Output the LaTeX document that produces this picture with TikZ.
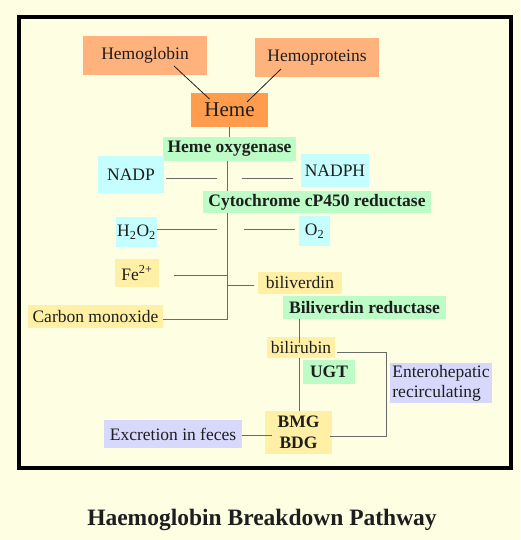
\documentclass[tikz,border=0pt]{standalone}
\usepackage{fontspec}
\setmainfont{Liberation Serif}
\usetikzlibrary{positioning}
\definecolor{paper}{HTML}{FEFEE2}
\definecolor{ink}{HTML}{1E1E1E}
\definecolor{wire}{HTML}{6A6A6A}
\definecolor{hemelight}{HTML}{FFB27C}
\definecolor{hemedark}{HTML}{FF9C4E}
\definecolor{enzyme}{HTML}{BDFCC6}
\definecolor{cofactor}{HTML}{C4FEFE}
\definecolor{product}{HTML}{FFF0A6}
\definecolor{fate}{HTML}{D8D8FC}

\begin{document}
\begin{tikzpicture}[x=1pt,y=1pt,text=ink,
  font=\fontsize{17.5}{19}\selectfont,
  box/.style={inner sep=0pt,outer sep=0pt},
  enz/.style={box,fill=enzyme,font=\bfseries\fontsize{17.5}{19}\selectfont},
  link/.style={draw=wire,line width=0.9pt}]
  \useasboundingbox[fill=paper] (0,0) rectangle (520,540);
  \draw[line width=4pt] (19,72) rectangle (511,523);

  % heme sources
  \node[box,fill=hemelight,minimum width=124,minimum height=39] (hgb) at (145,484.5) {Hemoglobin};
  \node[box,fill=hemelight,minimum width=124,minimum height=39] (hpro) at (317,482.5) {Hemoproteins};
  \node[box,fill=hemedark,minimum width=77,minimum height=34,font=\fontsize{21}{23}\selectfont] (heme) at (229.5,430) {Heme};
  \draw[draw=ink,line width=0.8pt] ([shift={(-33,9)}]hgb.south east) -- ([shift={(-20,-6)}]heme.north);
  \draw[draw=ink,line width=0.8pt] ([shift={(26,8)}]hpro.south west) -- ([shift={(17.5,-9)}]heme.north);

  % oxygenase step
  \node[enz,minimum width=133,minimum height=24] (hox) at (229.5,391) {Heme oxygenase};
  \node[box,fill=cofactor,minimum width=66,minimum height=37] (nadp) at (131,365.5) {NADP};
  \node[box,fill=cofactor,minimum width=68,minimum height=33] (nadph) at (335,369.5) {NADPH};
  \node[enz,minimum width=228,minimum height=22] (cyp) at (317,338) {Cytochrome cP450 reductase};
  \node[box,fill=cofactor,minimum width=41,minimum height=30] (hoo) at (136.5,308) {H\textsubscript{2}O\textsubscript{2}};
  \node[box,fill=cofactor,minimum width=31,minimum height=30] (oo) at (314.5,309) {O\textsubscript{2}};
  \node[box,fill=product,minimum width=44,minimum height=28] (fe) at (137,267) {Fe\textsuperscript{2+}};
  \node[box,fill=product,minimum width=84,minimum height=22] (bv) at (300,257) {biliverdin};
  \node[box,fill=product,minimum width=135,minimum height=23] (co) at (95.5,223.5) {Carbon monoxide};

  \coordinate (spine) at (227.5,221);
  \coordinate (nadpL) at (166,362);
  \coordinate (nadpR) at (217,362);
  \coordinate (nadphL) at (242,362);
  \coordinate (nadphR) at (293,362);
  \draw[link] (heme.south) -- (hox.north);
  \draw[link] (hox.south -| spine) -- (cyp.north -| spine);
  \draw[link] (cyp.south -| spine) -- (spine) -- (spine -| co.east);
  \draw[link] (nadpL) -- (nadpR);
  \draw[link] (nadphL) -- (nadphR);
  \draw[link] ([yshift=3pt]hoo.east) -- ++(60,0);
  \draw[link] ([shift={(-4,2)}]oo.west) -- ++(-51,0);
  \draw[link] ([shift={(15,-2)}]fe.east) -- (spine |- 0,265);
  \draw[link] ([shift={(-4,-2)}]bv.west) -- (spine |- 0,255);

  % reductase and conjugation
  \node[enz,minimum width=163,minimum height=23] (bvr) at (364.5,232.5) {Biliverdin reductase};
  \node[box,fill=product,minimum width=68,minimum height=21] (br) at (301,192.5) {bilirubin};
  \node[enz,minimum width=52,minimum height=24] (ugt) at (329,168) {UGT};
  \node[box,fill=product,minimum width=67,minimum height=43,align=center,
        font=\bfseries\fontsize{17.5}{21.5}\selectfont] (bdg) at (298.5,107.5) {BMG\\BDG};
  \node[box,fill=fate,minimum width=102,minimum height=40,align=left,
        font=\fontsize{17.5}{20}\selectfont] (ehr) at (441,157) {Enterohepatic\\recirculating};
  \node[box,fill=fate,minimum width=138,minimum height=28] (exc) at (173,106) {Excretion in feces};
  \draw[link] (bvr.south -| 299,0) -- (299,197);
  \draw[link] (br.south -| 299,0) -- (bdg.north -| 299,0);
  \draw[link] ([shift={(2,-4.5)}]br.east) -- ++(49,0) |- ([shift={(-2,-3.5)}]bdg.east);
  \draw[link] ([yshift=-1pt]exc.east) -- ([xshift=7pt]bdg.west |- 0,105);

  \node[font=\bfseries\fontsize{23.5}{25}\selectfont] (title) at (262,20) {Haemoglobin Breakdown Pathway};
\end{tikzpicture}
\end{document}
